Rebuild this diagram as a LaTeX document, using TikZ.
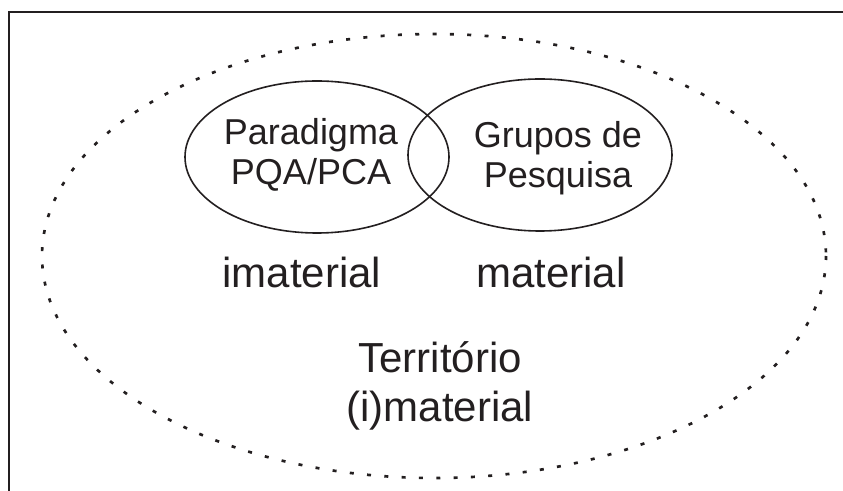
\documentclass[tikz,border=0pt]{standalone}
\usepackage{fontspec}
\setmainfont{Liberation Sans}
\usetikzlibrary{shapes.geometric}
\definecolor{ink}{HTML}{231F20}
\tikzset{
  circ/.style={draw=ink, ellipse, line width=1.2pt, minimum width=198pt, minimum height=114pt, inner sep=0pt},
  smalltext/.style={text=ink, align=center, anchor=base, font=\fontsize{27}{30}\selectfont},
  biglabel/.style={text=ink, align=center, anchor=base, font=\fontsize{31.5}{36.75}\selectfont},
}

\begin{document}
\begin{tikzpicture}[x=0.75pt, y=-0.75pt]
\useasboundingbox (0,0) rectangle (843,491);
% frame, open at right and bottom
\draw[ink, line width=1.5pt] (9,491)--(9,12)--(843,12);
% territory border
\draw[ink, line width=2pt, dash pattern=on 3pt off 10pt] (434,256) ellipse [x radius=392, y radius=222];
\node [circ] (paradigma) at (317,157) {};
\node [circ] (grupos) at (540,155) {};
\node [smalltext] (paratxt) at (311,185) {Paradigma\\PQA/PCA};
\node [smalltext] (grupotxt) at (558,188) {Grupos de\\Pesquisa};
\node [biglabel] (imat) at (302,288) {imaterial};
\node [biglabel] (mat) at (551,288) {material};
\node [biglabel] (terr) at (440,422) {Território\\(i)material};
\end{tikzpicture}
\end{document}
